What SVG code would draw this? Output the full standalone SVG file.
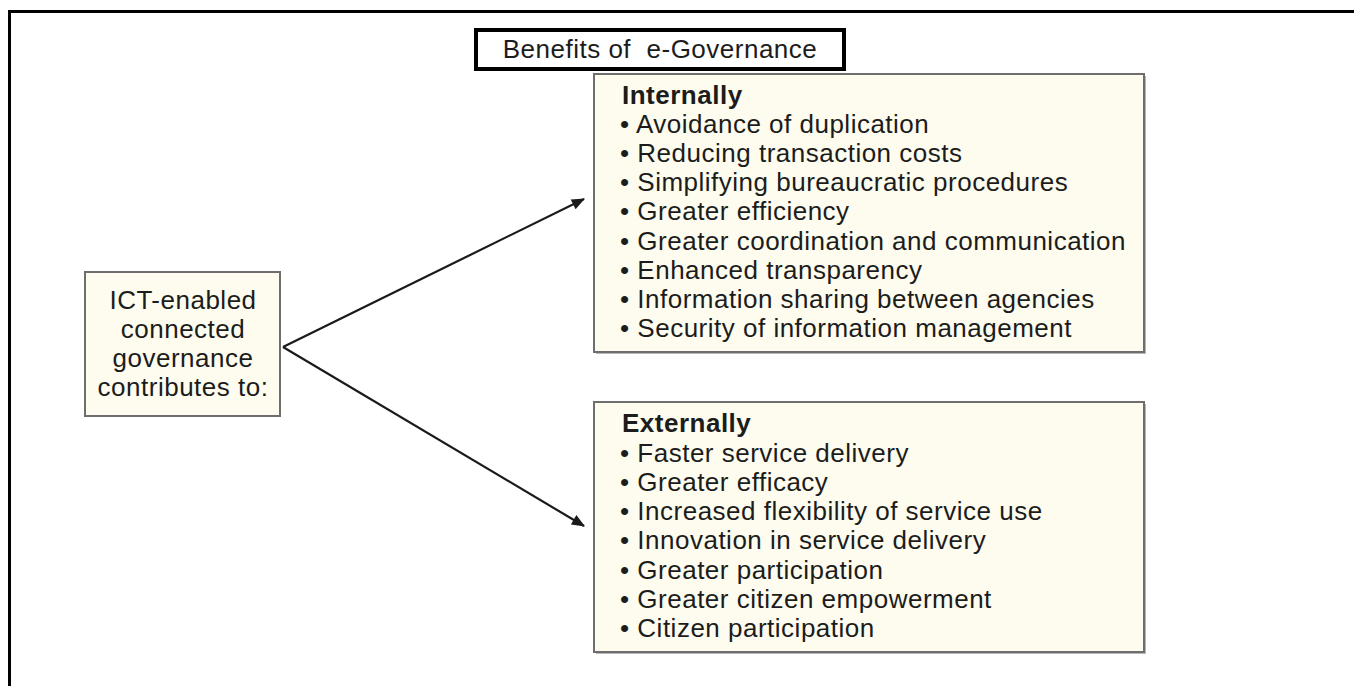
<svg xmlns="http://www.w3.org/2000/svg" width="1354" height="686" viewBox="0 0 1354 686">
<defs>
<style>
.t{font-family:"Liberation Sans",Arial,sans-serif;font-size:26px;letter-spacing:0.5px;fill:#1c1c1c}
.b{font-weight:bold}
.box{fill:#fdfcef;stroke:#6e6e6e;stroke-width:2}
.sh{fill:#b8b8b8}
.conn{stroke:#1a1a1a;stroke-width:2.2;fill:none}
</style>
<marker id="arr" viewBox="0 0 12 10" refX="11" refY="5" markerWidth="14" markerHeight="11" markerUnits="userSpaceOnUse" orient="auto">
<path d="M0,0 L12,5 L0,10 z" fill="#1a1a1a"/>
</marker>
</defs>
<rect width="1354" height="686" fill="#ffffff"/>
<path d="M9.5,686 V11.5 H1354" fill="none" stroke="#000" stroke-width="3"/>
<g id="title">
<rect x="476" y="30" width="368" height="39" fill="#fff" stroke="#000" stroke-width="4"/>
<text class="t" x="660" y="58" text-anchor="middle" font-size="24" style="white-space:pre">Benefits of  e-Governance</text>
</g>
<g id="connectors">
<line class="conn" x1="283" y1="347" x2="584" y2="199" marker-end="url(#arr)"/>
<line class="conn" x1="283" y1="347" x2="584" y2="526" marker-end="url(#arr)"/>
</g>
<g id="source">
<rect class="box" x="85" y="272" width="195" height="144"/>
<text class="t" text-anchor="middle" x="183"><tspan x="183" y="309">ICT-enabled</tspan><tspan x="183" y="338">connected</tspan><tspan x="183" y="367">governance</tspan><tspan x="183" y="396">contributes to:</tspan></text>
</g>
<g id="internally">
<rect class="sh" x="596" y="76" width="550" height="278"/>
<rect class="box" x="594" y="74" width="550" height="278"/>
<text class="t"><tspan class="b" x="622" y="104">Internally</tspan><tspan x="620" y="133">• Avoidance of duplication</tspan><tspan x="620" y="162">• Reducing transaction costs</tspan><tspan x="620" y="191">• Simplifying bureaucratic procedures</tspan><tspan x="620" y="220">• Greater efficiency</tspan><tspan x="620" y="250">• Greater coordination and communication</tspan><tspan x="620" y="279">• Enhanced transparency</tspan><tspan x="620" y="308">• Information sharing between agencies</tspan><tspan x="620" y="337">• Security of information management</tspan></text>
</g>
<g id="externally">
<rect class="sh" x="596" y="404" width="550" height="250"/>
<rect class="box" x="594" y="402" width="550" height="250"/>
<text class="t"><tspan class="b" x="622" y="432">Externally</tspan><tspan x="620" y="462">• Faster service delivery</tspan><tspan x="620" y="491">• Greater efficacy</tspan><tspan x="620" y="520">• Increased flexibility of service use</tspan><tspan x="620" y="549">• Innovation in service delivery</tspan><tspan x="620" y="579">• Greater participation</tspan><tspan x="620" y="608">• Greater citizen empowerment</tspan><tspan x="620" y="637">• Citizen participation</tspan></text>
</g>
</svg>
